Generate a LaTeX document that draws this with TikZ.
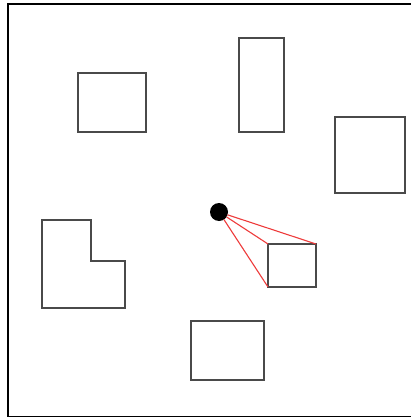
\documentclass[tikz,border=0pt]{standalone}
\usepackage{xcolor}
\usepackage{tikz}
\usetikzlibrary{positioning}
\definecolor{obsgray}{HTML}{4A4A4A}
\definecolor{rayred}{HTML}{EE3B3B}
\tikzset{
  obstacle/.style={draw=obsgray, line width=1.3pt, inner sep=0pt, outer sep=0pt, anchor=north west},
  robot/.style={circle, fill=black, inner sep=0pt, minimum size=18pt, outer sep=0pt},
  ray/.style={draw=rayred, line width=1.1pt},
  worldframe/.style={draw=black, line width=2.8pt},
}
\begin{document}
\begin{tikzpicture}[x=1pt, y=-1pt]
    \clip (0,0) rectangle (411,417);
    \fill[white] (0,0) rectangle (411,417);
    \draw[worldframe] (8,4) rectangle (414,417.5);
    % obstacles
    \node[obstacle, minimum width=68pt, minimum height=59pt] (obsA) at (78,73) {};
    \node[obstacle, minimum width=45pt, minimum height=94pt] (obsB) at (239,38) {};
    \node[obstacle, minimum width=70pt, minimum height=76pt] (obsC) at (335,117) {};
    \node[obstacle, minimum width=73pt, minimum height=59pt] (obsD) at (191,321) {};
    \draw[draw=obsgray, line width=1.3pt] (42,220) -- (91,220) -- (91,261) -- (125,261) -- (125,308) -- (42,308) -- cycle;
    % target box seen from the robot
    \node[obstacle, minimum width=48pt, minimum height=43pt] (target) at (268,244) {};
    \node[robot] (bot) at (219,212) {};
    \draw[ray] (bot) -- (target.north east);
    \draw[ray] (bot) -- (target.north west);
    \draw[ray] (bot) -- (target.south west);
\end{tikzpicture}
\end{document}
